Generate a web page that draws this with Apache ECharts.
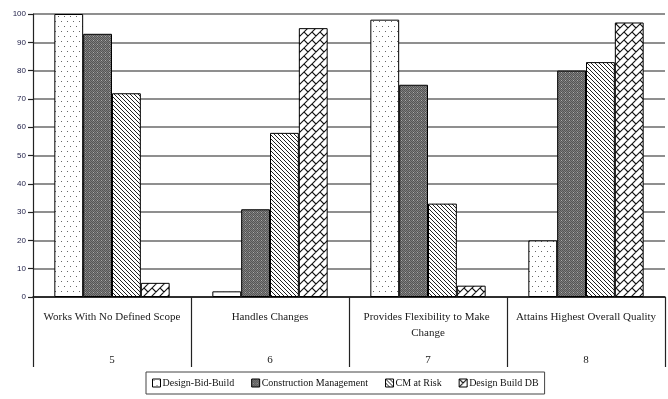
<!DOCTYPE html>
<html><head><meta charset="utf-8">
<script src="https://cdn.jsdelivr.net/npm/echarts@6/dist/echarts.min.js"></script>
<style>html,body{margin:0;padding:0;background:#fff}#c{width:668px;height:399px}</style>
</head><body><div id="c"></div>
<script>
const categories = ["Works With No Defined Scope", "Handles Changes", "Provides Flexibility to Make Change", "Attains Highest Overall Quality"];
const questionNumbers = ["5", "6", "7", "8"];
const seriesNames = ["Design-Bid-Build", "Construction Management", "CM at Risk", "Design Build DB"];
const designBidBuild = [100, 2, 98, 20];
const constructionManagement = [93, 31, 75, 80];
const cmAtRisk = [72, 58, 33, 83];
const designBuildDB = [5, 95, 4, 97];
const yTicks = [0, 10, 20, 30, 40, 50, 60, 70, 80, 90, 100];

function tile(w, h, draw) {
  const c = document.createElement('canvas');
  c.width = w; c.height = h;
  const g = c.getContext('2d');
  draw(g, w, h);
  return {image: c, repeat: 'repeat'};
}
const dots = tile(6, 10, (g) => {
  g.fillStyle = '#fff'; g.fillRect(0, 0, 6, 10);
  g.fillStyle = '#666';
  g.fillRect(1, 1, 1, 1);
  g.fillRect(4, 6, 1, 1);
});
const checker = tile(4, 4, (g) => {
  g.fillStyle = '#7e7e7e'; g.fillRect(0, 0, 4, 4);
  g.fillStyle = '#555';
  g.fillRect(0, 0, 1, 1); g.fillRect(2, 0, 1, 1); g.fillRect(1, 1, 1, 1); g.fillRect(3, 1, 1, 1);
  g.fillRect(0, 2, 1, 1); g.fillRect(2, 2, 1, 1); g.fillRect(1, 3, 1, 1); g.fillRect(3, 3, 1, 1);
  g.fillStyle = '#aaa';
  g.fillRect(1, 0, 1, 1);
});
const diag = tile(4, 4, (g) => {
  g.fillStyle = '#fff'; g.fillRect(0, 0, 4, 4);
  g.fillStyle = '#222';
  for (let i = 0; i < 4; i++) g.fillRect(i, i, 1, 1);
});
const brick = tile(8, 8, (g) => {
  g.fillStyle = '#fff'; g.fillRect(0, 0, 8, 8);
  g.strokeStyle = '#111'; g.lineWidth = 1.1;
  g.beginPath();
  g.moveTo(-2, 10); g.lineTo(10, -2);
  g.moveTo(-2, 2); g.lineTo(2, -2);
  g.moveTo(6, 10); g.lineTo(10, 6);
  g.moveTo(0, 0); g.lineTo(4, 4);
  g.stroke();
});
const fills = [dots, checker, diag, brick];
const dataSets = [designBidBuild, constructionManagement, cmAtRisk, designBuildDB];

const chart = echarts.init(document.getElementById('c'), null, {renderer: 'canvas'});
chart.setOption({
  animation: false,
  backgroundColor: '#fff',
  grid: {left: 33, right: 3, top: 14, bottom: 102, containLabel: false},
  legend: {
    left: 146, top: 372,
    data: seriesNames,
    itemWidth: 8, itemHeight: 8, itemGap: 17,
    borderColor: '#444', borderWidth: 1, padding: [6, 6],
    icon: 'rect',
    itemStyle: {borderColor: '#000', borderWidth: 1},
    textStyle: {fontFamily: 'Liberation Serif', fontSize: 10, color: '#111', padding: [0, 0, 0, -3]}
  },
  xAxis: [{
    type: 'category', data: categories, position: 'bottom',
    axisLine: {lineStyle: {color: '#111', width: 1.5}},
    axisTick: {show: true, interval: 0, length: 70, lineStyle: {color: '#222', width: 1.2}},
    axisLabel: {interval: 0, margin: 12, fontFamily: 'Liberation Serif', fontSize: 11, color: '#1a1a1a', width: 145, overflow: 'break', lineHeight: 16}
  }, {
    type: 'category', data: questionNumbers, position: 'bottom', gridIndex: 0,
    axisLine: {show: false}, axisTick: {show: false},
    axisLabel: {interval: 0, margin: 58, fontFamily: 'Liberation Serif', fontSize: 11, color: '#1a1a1a'}
  }],
  yAxis: {
    type: 'value', min: yTicks[0], max: yTicks[yTicks.length - 1], interval: 10,
    axisLine: {show: true, lineStyle: {color: '#222', width: 1.2}},
    axisTick: {show: true, length: 5, lineStyle: {color: '#222', width: 1.2}},
    axisLabel: {margin: 7, fontFamily: 'Liberation Sans', fontSize: 8, color: '#22224a'},
    splitLine: {show: true, lineStyle: {color: '#6a6a6a', width: 1.5}}
  },
  series: seriesNames.map((n, i) => ({
    name: n, type: 'bar', xAxisIndex: 0, data: dataSets[i],
    barGap: '0%', barCategoryGap: '27%',
    itemStyle: {color: fills[i], borderColor: '#000', borderWidth: 1}
  }))
});
</script></body></html>
